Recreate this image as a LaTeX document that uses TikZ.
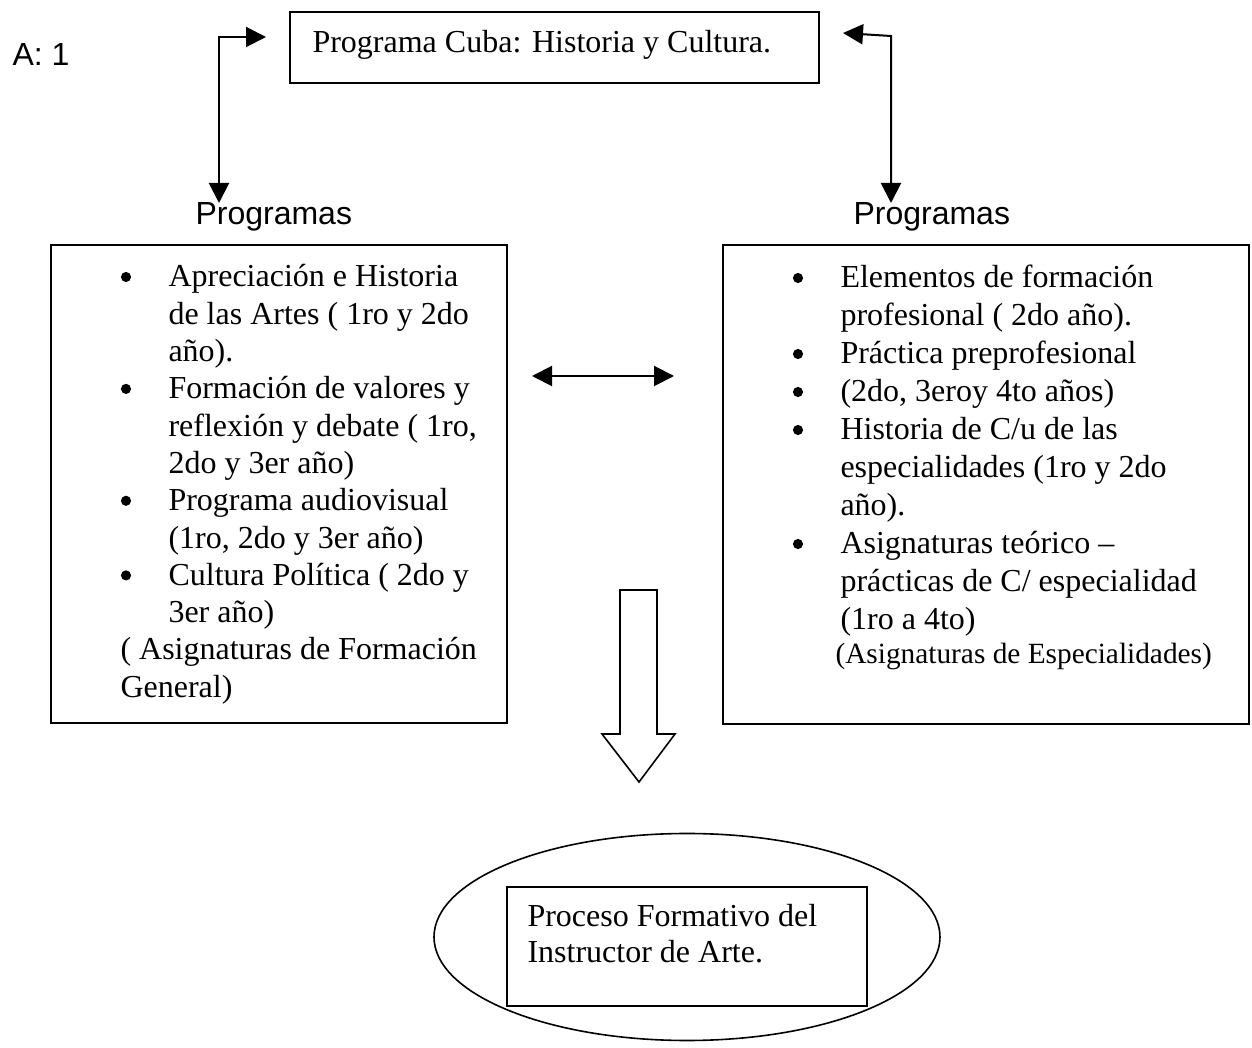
\documentclass[tikz,border=0pt]{standalone}
\usepackage{fontspec}
\setmainfont{Liberation Serif}
\setsansfont{Liberation Sans}
\usetikzlibrary{arrows.meta,shapes.geometric}
\begin{document}
\begin{tikzpicture}[x=0.375pt,y=-0.375pt,
  ser/.style={font=\fontsize{12}{13.8}\selectfont, inner sep=0pt, anchor=base west},
  sser/.style={font=\fontsize{11}{12.65}\selectfont, inner sep=0pt, anchor=base west},
  san/.style={font=\sffamily\fontsize{12}{13.8}\selectfont, inner sep=0pt, anchor=base west},
  boxn/.style={draw, line width=0.8pt, rectangle, inner sep=0pt},
  conn/.style={line width=0.75pt, {Triangle[length=7.5pt,width=7.5pt]}-{Triangle[length=7.5pt,width=7.5pt]}},
  bul/.style={circle, fill, inner sep=0pt, minimum size=3.8pt}
]
\useasboundingbox (0,0) rectangle (1252,1048);

% boxes
\node[boxn, minimum width=198.375pt, minimum height=26.625pt] (top) at (554.5,47.5) {};
\node[boxn, minimum width=171pt, minimum height=179.25pt] (lbox) at (279,484) {};
\node[boxn, minimum width=197.25pt, minimum height=179.625pt] (rbox) at (986,484.5) {};
\node[draw, ellipse, line width=0.6pt, inner sep=0pt, minimum width=189.75pt, minimum height=77.625pt] (ell) at (687,937) {};
\node[boxn, minimum width=135pt, minimum height=44.625pt] (ibox) at (687,946.5) {};

% labels
\node[san] (a1) at (12,66) {A: 1};
\node[ser] (toptxt) at (312,53) {Programa Cuba: Historia y Cultura.};
\node[san] (lprog) at (195,225) {Programas};
\node[san] (rprog) at (853,225) {Programas};

% connectors
\coordinate (tlA) at (266,37);
\coordinate (tlB) at (219,203);
\draw[conn] (tlA) -| (tlB);
\coordinate (trA) at (843,33);
\coordinate (trC) at (891,36);
\coordinate (trB) at (891,203);
\draw[conn] (trA) -- (trC) -- (trB);
\coordinate (mA) at (532,376);
\coordinate (mB) at (674,376);
\draw[conn] (mA) -- (mB);

% block arrow
\draw[line width=0.6pt, line join=miter] (620,590) -- (657,590) -- (657,734) -- (675,734) -- (639,782) -- (602,734) -- (620,734) -- cycle;

% left box text
\node[bul] (lb1) at (126,277) {};
\node[ser] (l1) at (168,287) {Apreciación e Historia};
\node[ser] (l2) at (168,324.3) {de las Artes ( 1ro y 2do};
\node[ser] (l3) at (168,361.6) {año).};
\node[bul] (lb2) at (126,388.9) {};
\node[ser] (l4) at (168,398.9) {Formación de valores y};
\node[ser] (l5) at (168,436.2) {reflexión y debate ( 1ro,};
\node[ser] (l6) at (168,473.5) {2do y 3er año)};
\node[bul] (lb3) at (126,500.8) {};
\node[ser] (l7) at (168,510.8) {Programa audiovisual};
\node[ser] (l8) at (168,548.1) {(1ro, 2do y 3er año)};
\node[bul] (lb4) at (126,575.4) {};
\node[ser] (l9) at (168,585.4) {Cultura Política ( 2do y};
\node[ser] (l10) at (168,622.7) {3er año)};
\node[ser] (l11) at (120,660) {( Asignaturas de Formación};
\node[ser] (l12) at (120,697.3) {General)};

% right box text
\node[bul] (rb1) at (798,278) {};
\node[ser] (r1) at (840,288) {Elementos de formación};
\node[ser] (r2) at (840,326) {profesional ( 2do año).};
\node[bul] (rb2) at (798,354) {};
\node[ser] (r3) at (840,364) {Práctica preprofesional};
\node[bul] (rb3) at (798,392) {};
\node[ser] (r4) at (840,402) {(2do, 3eroy 4to años)};
\node[bul] (rb4) at (798,430) {};
\node[ser] (r5) at (840,440) {Historia de C/u de las};
\node[ser] (r6) at (840,478) {especialidades (1ro y 2do};
\node[ser] (r7) at (840,516) {año).};
\node[bul] (rb5) at (798,544) {};
\node[ser] (r8) at (840,554) {Asignaturas teórico –};
\node[ser] (r9) at (840,592) {prácticas de C/ especialidad};
\node[ser] (r10) at (840,630) {(1ro a 4to)};
\node[sser] (r11) at (835,664) {(Asignaturas de Especialidades)};

% inner box text
\node[ser] (p1) at (527,927) {Proceso Formativo del};
\node[ser] (p2) at (527,963) {Instructor de Arte.};
\end{tikzpicture}
\end{document}
